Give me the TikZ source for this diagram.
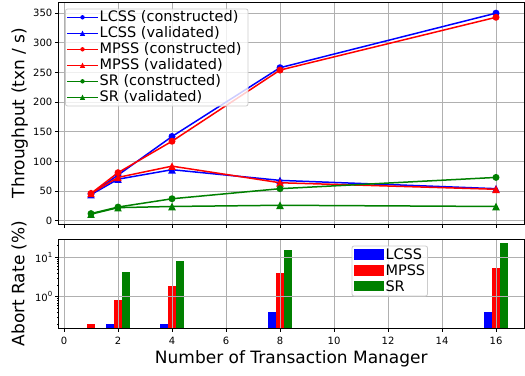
\documentclass[tikz,border=0pt]{standalone}
\usepackage{fontspec}
\setmainfont{DejaVu Sans}
\definecolor{gridgray}{HTML}{B0B0B0}
\definecolor{mplgreen}{HTML}{008000}
\definecolor{legedge}{HTML}{CCCCCC}
\newcommand\tickfont{\fontsize{10}{10}\selectfont}
\newcommand\lgfont{\fontsize{14.5}{14.5}\selectfont}
\newcommand\labfont{\fontsize{17}{17}\selectfont}
\newcommand\mktri[3]{\fill[#1] (#2,#3) ++(0,-3.8) -- ++(3.8,7.6) -- ++(-7.6,0) -- cycle;}
\newcommand\mkcirc[3]{\fill[#1] (#2,#3) circle (3.5);}
\begin{document}
\begin{tikzpicture}[x=1pt,y=-1pt,
  declare function={px(\u)=64+27*\u; py(\v)=220.7-0.593*\v; ly(\w)=296.7-39.4*log10(\w);},
  grid/.style={draw=gridgray, line width=0.8pt},
  spine/.style={draw=black, line width=0.8pt},
  tickmark/.style={draw=black, line width=0.8pt},
  ser/.style={line width=1.5pt, line join=round},
  ticklab/.style={font=\tickfont, inner sep=0pt},
  legbox/.style={fill=white, fill opacity=0.8, draw=legedge, line width=0.8pt, rounded corners=2pt}]
\useasboundingbox (0,0) rectangle (525,375);

% ---------------- top axes ----------------
\foreach \u in {0,2,...,16} \draw[grid] ({px(\u)},2) -- ({px(\u)},224);
\foreach \v in {0,50,...,350} \draw[grid] (58.5,{py(\v)}) -- (524,{py(\v)});

% LCSS constructed
\draw[ser,blue] ({px(1)},{py(45)}) -- ({px(2)},{py(77)}) -- ({px(4)},{py(142)}) -- ({px(8)},{py(258)}) -- ({px(16)},{py(350)});
\foreach \a/\b in {1/45,2/77,4/142,8/258,16/350} {\mkcirc{blue}{{px(\a)}}{{py(\b)}}}
% LCSS validated
\draw[ser,blue] ({px(1)},{py(44)}) -- ({px(2)},{py(70)}) -- ({px(4)},{py(86)}) -- ({px(8)},{py(68)}) -- ({px(16)},{py(54)});
\foreach \a/\b in {1/44,2/70,4/86,8/68,16/54} {\mktri{blue}{{px(\a)}}{{py(\b)}}}
% MPSS constructed
\draw[ser,red] ({px(1)},{py(46)}) -- ({px(2)},{py(81)}) -- ({px(4)},{py(134)}) -- ({px(8)},{py(254)}) -- ({px(16)},{py(343)});
\foreach \a/\b in {1/46,2/81,4/134,8/254,16/343} {\mkcirc{red}{{px(\a)}}{{py(\b)}}}
% MPSS validated
\draw[ser,red] ({px(1)},{py(46)}) -- ({px(2)},{py(73)}) -- ({px(4)},{py(92)}) -- ({px(8)},{py(64)}) -- ({px(16)},{py(53)});
\foreach \a/\b in {1/46,2/73,4/92,8/64,16/53} {\mktri{red}{{px(\a)}}{{py(\b)}}}
% SR constructed
\draw[ser,mplgreen] ({px(1)},{py(12)}) -- ({px(2)},{py(23)}) -- ({px(4)},{py(37)}) -- ({px(8)},{py(54)}) -- ({px(16)},{py(73)});
\foreach \a/\b in {1/12,2/23,4/37,8/54,16/73} {\mkcirc{mplgreen}{{px(\a)}}{{py(\b)}}}
% SR validated
\draw[ser,mplgreen] ({px(1)},{py(11)}) -- ({px(2)},{py(22)}) -- ({px(4)},{py(24)}) -- ({px(8)},{py(26)}) -- ({px(16)},{py(24)});
\foreach \a/\b in {1/11,2/22,4/24,8/26,16/24} {\mktri{mplgreen}{{px(\a)}}{{py(\b)}}}

\draw[spine] (58.5,2) rectangle (524.3,224);
\foreach \v in {0,50,...,350} {
  \draw[tickmark] (58.5,{py(\v)}) -- (55,{py(\v)});
  \node[ticklab, anchor=east] (yt\v) at (52.5,{py(\v)}) {\v};
}
\foreach \u in {0,2,...,16} \draw[tickmark] ({px(\u)},224) -- ({px(\u)},227.5);
\node[font=\labfont, rotate=90, anchor=base, inner sep=0pt] (ylab1) at (24.3,113) {Throughput (txn / s)};

% legend top
\draw[legbox] (65.5,9) rectangle (248,106);
\foreach \k/\c/\m/\t in {0/blue/c/LCSS (constructed),1/blue/t/LCSS (validated),2/red/c/MPSS (constructed),3/red/t/MPSS (validated),4/mplgreen/c/SR (constructed),5/mplgreen/t/SR (validated)} {
  \draw[ser,\c] (67,{17.3+16*\k}) -- (98,{17.3+16*\k});
  \if c\m \fill[\c] (82.5,{17.3+16*\k}) circle (2.2);
  \else \fill[\c] (82.5,{17.3+16*\k}) ++(0,-2.6) -- ++(2.6,5.2) -- ++(-5.2,0) -- cycle; \fi
  \node[font=\lgfont, anchor=west, inner sep=0pt] (lg\k) at (99.5,{17.3+16*\k}) {\t};
}

% ---------------- bottom axes ----------------
% bars
\foreach \u/\w in {2/0.2,4/0.2,8/0.42,16/0.42}
  \fill[blue] ({px(\u-0.3)-4.05},328.3) rectangle ({px(\u-0.3)+4.05},{ly(\w)});
\foreach \u/\w in {1/0.2,2/0.82,4/1.87,8/4.0,16/5.35}
  \fill[red] ({px(\u)-4.05},328.3) rectangle ({px(\u)+4.05},{ly(\w)});
\foreach \u/\w in {2/4.2,4/8.05,8/15.3,16/23}
  \fill[mplgreen] ({px(\u+0.3)-4.05},328.3) rectangle ({px(\u+0.3)+4.05},{ly(\w)});

\foreach \u in {0,2,...,16} \draw[grid] ({px(\u)},239) -- ({px(\u)},328.3);
\foreach \w in {1,10} \draw[grid] (58.5,{ly(\w)}) -- (524,{ly(\w)});

\draw[spine] (58.5,239) rectangle (524.3,328.3);
\foreach \u in {0,2,...,16} {
  \draw[tickmark] ({px(\u)},328.3) -- ({px(\u)},331.8);
  \node[ticklab, anchor=base] (xt\u) at ({px(\u)},344) {\u};
}
\foreach \w in {1,10} \draw[tickmark] (58.5,{ly(\w)}) -- (55,{ly(\w)});
\foreach \w in {0.2,0.3,0.4,0.5,0.6,0.7,0.8,0.9,2,3,4,5,6,7,8,9,20}
  \draw[line width=0.6pt] (58.5,{ly(\w)}) -- (56.5,{ly(\w)});
\node[ticklab, anchor=east] (lt1) at (52.5,{ly(10)}) {10\raisebox{0.45em}{\fontsize{7}{7}\selectfont 1}};
\node[ticklab, anchor=east] (lt0) at (52.5,{ly(1)}) {10\raisebox{0.45em}{\fontsize{7}{7}\selectfont 0}};

\node[font=\labfont, rotate=90, anchor=base, inner sep=0pt] (ylab2) at (24.3,283.5) {Abort Rate (\%)};
\node[font=\labfont, anchor=base, inner sep=0pt] (xlab) at (291.3,363.3) {Number of Transaction Manager};

% legend bottom
\draw[legbox] (352,246) rectangle (427.5,296);
\foreach \k/\c/\t/\yy in {0/blue/LCSS/254.5,1/red/MPSS/270.5,2/mplgreen/SR/286.2} {
  \fill[\c] (353.5,{\yy-5.2}) rectangle (384,{\yy+5.2});
  \node[font=\lgfont, anchor=west, inner sep=0pt] (bl\k) at (385.3,\yy) {\t};
}
\end{tikzpicture}
\end{document}
